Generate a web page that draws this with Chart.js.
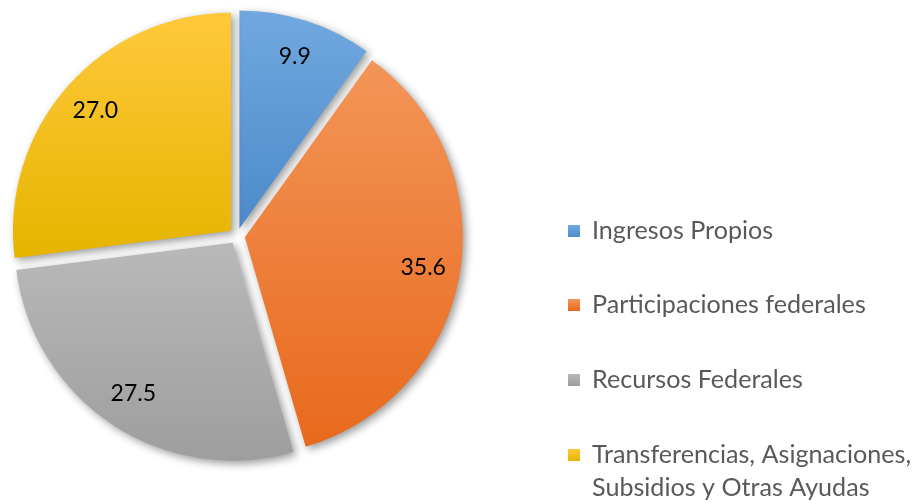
<!DOCTYPE html>
<html><head><meta charset="utf-8">
<script src="https://cdn.jsdelivr.net/npm/chart.js@4/dist/chart.umd.min.js"></script>
<style>html,body{margin:0;padding:0;background:#fff}#wrap{width:919px;height:502px;position:relative}</style>
</head><body><div id="wrap"><canvas id="c"></canvas></div>
<script>
const categories = ['Ingresos Propios', 'Participaciones federales', 'Recursos Federales', 'Transferencias, Asignaciones, Subsidios y Otras Ayudas'];
const legendLines = [['Ingresos Propios'], ['Participaciones federales'], ['Recursos Federales'], ['Transferencias, Asignaciones,', 'Subsidios y Otras Ayudas']];
const values = [9.9, 35.6, 27.5, 27.0];
const valueLabels = ['9.9', '35.6', '27.5', '27.0'];
const baseColors = ['#5b9bd5', '#ed7d31', '#a5a5a5', '#ffc000'];
const topColors = ['#72a9df', '#f39558', '#b8b8b8', '#ffc93d'];
const bottomColors = ['#4e8bcc', '#e8691c', '#9d9d9d', '#e6b500'];

const FONT = 'Lato, "Open Sans", sans-serif';
const SLICE_OFFSET = 8; // pixel shift of each slice outward (exploded pie)

function arcBox(a, off) {
  const mid = (a.startAngle + a.endAngle) / 2;
  const cx = a.x + off * Math.cos(mid), cy = a.y + off * Math.sin(mid);
  const ys = [cy];
  const pts = [a.startAngle, a.endAngle];
  for (let k = -4; k <= 8; k++) {
    const ang = k * Math.PI / 2;
    if (ang > a.startAngle && ang < a.endAngle) pts.push(ang);
  }
  pts.forEach(t => ys.push(cy + a.outerRadius * Math.sin(t)));
  return {top: Math.min(...ys), bottom: Math.max(...ys), cx, cy, mid};
}

const fxPlugin = {
  id: 'fx',
  beforeDatasetsDraw(chart) {
    const ctx = chart.ctx;
    const meta = chart.getDatasetMeta(0);
    meta.data.forEach((arc, i) => {
      const p = arc.getProps(['x', 'y', 'startAngle', 'endAngle', 'outerRadius']);
      const b = arcBox(p, SLICE_OFFSET);
      const g = ctx.createLinearGradient(0, b.top, 0, b.bottom);
      g.addColorStop(0, topColors[i]);
      g.addColorStop(1, bottomColors[i]);
      arc.options.backgroundColor = g;
      if (!arc._exploded) {
        const orig = Object.getPrototypeOf(arc).draw;
        arc.draw = function (c) {
          const m = (this.startAngle + this.endAngle) / 2;
          c.save();
          c.translate(Math.cos(m) * SLICE_OFFSET, Math.sin(m) * SLICE_OFFSET);
          orig.call(this, c);
          c.restore();
        };
        arc._exploded = true;
      }
    });
    ctx.save();
    ctx.shadowColor = 'rgba(0,0,0,0.40)';
    ctx.shadowBlur = 9;
    ctx.shadowOffsetX = 3;
    ctx.shadowOffsetY = 3;
  },
  afterDatasetsDraw(chart) {
    const ctx = chart.ctx;
    ctx.restore();
    const meta = chart.getDatasetMeta(0);
    ctx.save();
    ctx.font = '23px ' + FONT;
    ctx.fillStyle = '#000';
    ctx.textAlign = 'center';
    ctx.textBaseline = 'middle';
    meta.data.forEach((arc, i) => {
      const p = arc.getProps(['x', 'y', 'startAngle', 'endAngle', 'outerRadius']);
      const b = arcBox(p, SLICE_OFFSET);
      const r = p.outerRadius * 0.83;
      ctx.fillText(valueLabels[i], b.cx + r * Math.cos(b.mid), b.cy + r * Math.sin(b.mid));
    });
    ctx.restore();
  },
  afterDraw(chart) {
    const ctx = chart.ctx;
    ctx.save();
    ctx.font = '20px ' + FONT;
    const w = ctx.measureText('Participaciones federales').width;
    const size = Math.min(25.5, 20 * 274 / w);
    ctx.font = size + 'px ' + FONT;
    ctx.textBaseline = 'middle';
    ctx.textAlign = 'left';
    const rows = [231, 305, 380, 455];
    legendLines.forEach((lines, i) => {
      const y = rows[i];
      const g = ctx.createLinearGradient(0, y - 6, 0, y + 6);
      g.addColorStop(0, topColors[i]);
      g.addColorStop(1, bottomColors[i]);
      ctx.fillStyle = g;
      ctx.fillRect(568, y - 6, 12, 12);
      ctx.fillStyle = '#595959';
      lines.forEach((t, j) => ctx.fillText(t, 592, y + j * 33));
    });
    ctx.restore();
  }
};

new Chart(document.getElementById('c'), {
  type: 'pie',
  data: {
    labels: categories,
    datasets: [{
      data: values,
      backgroundColor: baseColors,
      borderWidth: 0,
      radius: 218
    }]
  },
  options: {
    responsive: true,
    maintainAspectRatio: false,
    animation: false,
    events: [],
    layout: {padding: {left: 0, top: 0, right: 445, bottom: 30}},
    plugins: {legend: {display: false}, tooltip: {enabled: false}}
  },
  plugins: [fxPlugin]
});
</script>
</body></html>
